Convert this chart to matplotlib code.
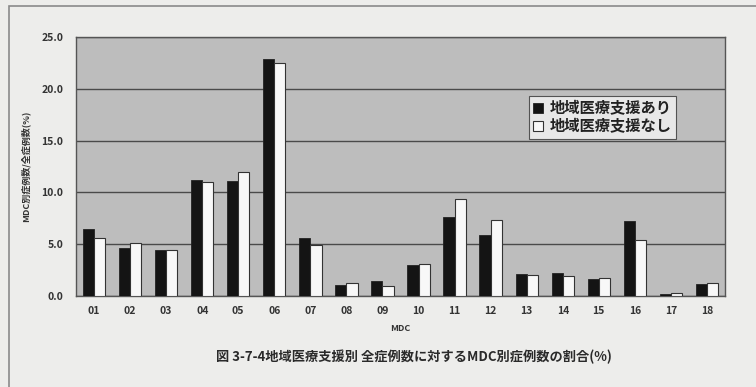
import matplotlib
matplotlib.use("Agg")
import matplotlib.pyplot as plt
from matplotlib.patches import Rectangle
import numpy as np

plt.rcParams['font.family'] = ['Noto Sans CJK JP', 'DejaVu Sans']

categories = ["01", "02", "03", "04", "05", "06", "07", "08", "09",
              "10", "11", "12", "13", "14", "15", "16", "17", "18"]
with_support = [6.5, 4.6, 4.4, 11.2, 11.1, 22.9, 5.6, 1.1, 1.4,
                3.0, 7.6, 5.9, 2.1, 2.2, 1.6, 7.2, 0.2, 1.2]
without_support = [5.6, 5.1, 4.4, 11.0, 12.0, 22.5, 4.9, 1.3, 1.0,
                   3.1, 9.4, 7.3, 2.0, 1.9, 1.7, 5.4, 0.3, 1.3]
series_names = ["地域医療支援あり", "地域医療支援なし"]
y_ticks = [0, 5, 10, 15, 20, 25]

W, H = 756, 387
fig = plt.figure(figsize=(W / 100, H / 100), dpi=100)
fig.patch.set_facecolor("#ededeb")

# outer panel frame
fig.add_artist(Rectangle((9 / W, -0.1), 1.2, 1 - 6 / H + 0.1,
                         transform=fig.transFigure, fill=False,
                         edgecolor="#8a8a8a", linewidth=1.2))

ax = fig.add_axes([76 / W, 1 - 296 / H, (725 - 76) / W, (296 - 37) / H])
ax.set_facecolor("#bdbdbd")

x = np.arange(len(categories))
bw = 0.31
ax.bar(x - bw / 2, with_support, width=bw, color="#141414",
       edgecolor="#222222", linewidth=0.6, label=series_names[0], zorder=3)
ax.bar(x + bw / 2, without_support, width=bw, color="#f8f8f8",
       edgecolor="#333333", linewidth=0.8, label=series_names[1], zorder=3)

ax.set_xlim(-0.5, len(categories) - 0.5)
ax.set_ylim(0, 25)
ax.set_yticks(y_ticks)
ax.set_yticklabels([f"{v:.1f}" for v in y_ticks], fontsize=7.5, color="#333333",
                   fontweight="bold")
ax.set_xticks(x)
ax.set_xticklabels(categories, fontsize=7.5, color="#333333", fontweight="bold")
ax.tick_params(axis="x", length=0, pad=7)
ax.tick_params(axis="y", length=0, pad=9)
ax.yaxis.grid(True, color="#4a4a4a", linewidth=1.0, zorder=1)
ax.set_axisbelow(True)
for s in ax.spines.values():
    s.set_color("#555555")
    s.set_linewidth(1.0)

ax.set_xlabel("MDC", fontsize=6.5, color="#333333", fontweight="bold", labelpad=6)
ax.set_ylabel("MDC別症例数/全症例数(%)", fontsize=6.5, color="#333333",
              fontweight="bold", labelpad=8)

leg = ax.legend(loc="upper left", bbox_to_anchor=(445 / 649, 1 - 51 / 259),
                frameon=True, fancybox=False, handlelength=0.65,
                handleheight=0.65, handletextpad=0.4, borderpad=0.3,
                labelspacing=0.15, prop={'weight': 'bold', 'size': 11})
leg.get_frame().set_edgecolor("#333333")
leg.get_frame().set_facecolor("#f4f4f4")
leg.get_frame().set_linewidth(0.8)
for t in leg.get_texts():
    t.set_color("#222222")

fig.text(414 / W, 1 - 357 / H, "図 3-7-4地域医療支援別 全症例数に対するMDC別症例数の割合(%)",
         ha="center", va="center", fontsize=9.5, fontweight="bold", color="#2a2a2a")

fig.savefig("out.png", dpi=100, facecolor=fig.get_facecolor())
